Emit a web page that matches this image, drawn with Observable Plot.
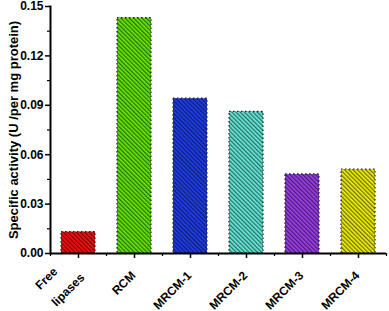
<!DOCTYPE html>
<html>
<head>
<meta charset="utf-8">
<script src="https://cdn.jsdelivr.net/npm/d3@7"></script>
<script src="https://cdn.jsdelivr.net/npm/@observablehq/plot@0.6"></script>
<style>
  body { margin: 0; background: #fff; }
  #chart { position: relative; width: 389px; height: 311px; }
  svg { font-family: "Liberation Sans", Arial, sans-serif; font-weight: bold; }
</style>
</head>
<body>
<div id="chart"></div>
<script>
const categories = ["Free lipases", "RCM", "MRCM-1", "MRCM-2", "MRCM-3", "MRCM-4"];
const values = [0.013, 0.143, 0.094, 0.086, 0.048, 0.051];
const colors = ["#ff1010", "#66ee00", "#2040f0", "#66eedd", "#a040f0", "#f4f400"];
const yTicks = [0, 0.03, 0.06, 0.09, 0.12, 0.15];
const yMinorTicks = [0.015, 0.045, 0.075, 0.105, 0.135];
const yLabel = "Specific activity (U /per mg protein)";

const data = categories.map((c, i) => ({cat: c, value: values[i], color: colors[i]}));
const singleLabels = categories.slice(1);

const textStyle = {rotate: -45, textAnchor: "end", lineAnchor: "middle", frameAnchor: "bottom", fontSize: 12, fontWeight: "bold", fill: "#000"};

const plot = Plot.plot({
  width: 389,
  height: 311,
  marginLeft: 50,
  marginRight: 3,
  marginTop: 6,
  marginBottom: 58,
  style: {fontSize: "12px", fontWeight: "bold", fontFamily: "'Liberation Sans', Arial, sans-serif", color: "#000"},
  x: {domain: categories, paddingInner: 0.39, paddingOuter: 0.195, label: null},
  y: {domain: [0, 0.15], label: null},
  color: {type: "identity"},
  marks: [
    Plot.barY(data, {x: "cat", y: "value", fill: "color"}),
    Plot.barY(data, {x: "cat", y: "value", fill: "url(#hatch)", stroke: "#222", strokeDasharray: "1.5,2.5", strokeWidth: 1.2}),
    Plot.axisY({ticks: yTicks, tickSize: 5, tickFormat: d3.format(".2f"), tickPadding: 2, stroke: "#000", strokeWidth: 1.5, fill: "#000", fontSize: 12, fontWeight: "bold", label: null}),
    Plot.axisY({ticks: yMinorTicks, tickSize: 3, stroke: "#000", fill: "none", strokeWidth: 1.2, label: null}),
    Plot.axisX({ticks: categories, tickSize: 5, stroke: "#000", fill: "none", strokeWidth: 1.5, label: null}),
    Plot.axisX({ticks: categories, tickSize: 3, stroke: "#000", fill: "none", dx: -28, strokeWidth: 1.2, label: null}),
    Plot.axisX({ticks: categories.slice(-1), tickSize: 3, stroke: "#000", fill: "none", dx: 28, strokeWidth: 1.2, label: null}),
    Plot.frame({anchor: "left", strokeWidth: 2}),
    Plot.ruleY([0], {strokeWidth: 2}),
    Plot.text(singleLabels, {x: d => d, text: d => d, dx: -1, dy: 20, ...textStyle}),
    Plot.text(categories.slice(0, 1), {x: d => d, text: () => "Free", dx: -23, dy: 16, ...textStyle}),
    Plot.text(categories.slice(0, 1), {x: d => d, text: () => "lipases", dx: 4, dy: 22, ...textStyle}),
    Plot.text([yLabel], {text: d => d, frameAnchor: "left", dx: -37, rotate: -90, fontSize: 13, fontWeight: "bold", fill: "#000", textAnchor: "middle", lineAnchor: "middle"})
  ]
});

document.getElementById("chart").appendChild(plot);

// hatch pattern definition
const svg = d3.select(plot);
const defs = svg.insert("defs", ":first-child");
const pat = defs.append("pattern")
  .attr("id", "hatch")
  .attr("patternUnits", "userSpaceOnUse")
  .attr("width", 3)
  .attr("height", 3)
  .attr("patternTransform", "rotate(-45)");
pat.append("rect").attr("x", 0).attr("y", 0).attr("width", 1.3).attr("height", 3).attr("fill", "rgba(0,0,0,0.55)");
</script>
</body>
</html>
